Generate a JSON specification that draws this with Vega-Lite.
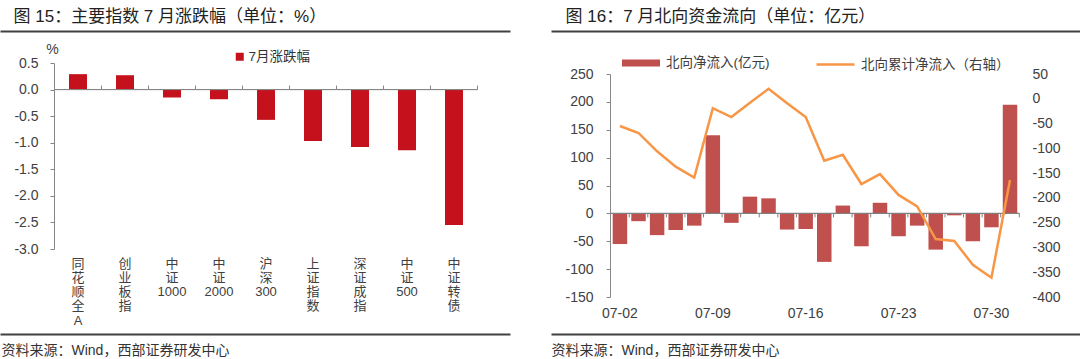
{
  "$schema": "https://vega.github.io/schema/vega-lite/v6.json",
  "padding": {"left": 0, "top": 7, "right": 0, "bottom": 0},
  "spacing": 41,
  "resolve": {"legend": {"color": "independent", "fill": "independent", "stroke": "independent"}},
  "config": {
    "view": {"stroke": null},
    "locale": {"number": {"decimal": ".", "thousands": ",", "grouping": [3], "currency": ["$", ""], "minus": "-"}},
    "axis": {"grid": false, "labelFont": "Liberation Sans, Noto Sans CJK SC", "titleFont": "Liberation Sans, Noto Sans CJK SC"},
    "legend": {"labelFont": "Liberation Sans, Noto Sans CJK SC"}
  },
  "datasets": {
    "indices": [
      {"name": "同花顺全A", "value": 0.29},
      {"name": "创业板指", "value": 0.27},
      {"name": "中证1000", "value": -0.15},
      {"name": "中证2000", "value": -0.18},
      {"name": "沪深300", "value": -0.57},
      {"name": "上证指数", "value": -0.97},
      {"name": "深证成指", "value": -1.08},
      {"name": "中证500", "value": -1.14},
      {"name": "中证转债", "value": -2.55}
    ],
    "north": [
      {"date": "07-02", "inflow": -55, "cum": -55},
      {"date": "07-03", "inflow": -14, "cum": -69},
      {"date": "07-04", "inflow": -39, "cum": -106},
      {"date": "07-05", "inflow": -30, "cum": -137},
      {"date": "07-08", "inflow": -22, "cum": -159},
      {"date": "07-09", "inflow": 140, "cum": -19},
      {"date": "07-10", "inflow": -17, "cum": -37},
      {"date": "07-11", "inflow": 30, "cum": -8},
      {"date": "07-12", "inflow": 27, "cum": 20},
      {"date": "07-15", "inflow": -29, "cum": -9},
      {"date": "07-16", "inflow": -28, "cum": -37},
      {"date": "07-17", "inflow": -87, "cum": -125},
      {"date": "07-18", "inflow": 14, "cum": -113},
      {"date": "07-19", "inflow": -59, "cum": -172},
      {"date": "07-22", "inflow": 19, "cum": -152},
      {"date": "07-23", "inflow": -41, "cum": -194},
      {"date": "07-24", "inflow": -22, "cum": -217},
      {"date": "07-25", "inflow": -65, "cum": -283},
      {"date": "07-26", "inflow": -3.5, "cum": -287},
      {"date": "07-29", "inflow": -50, "cum": -335},
      {"date": "07-30", "inflow": -25, "cum": -361},
      {"date": "07-31", "inflow": 195, "cum": -164}
    ]
  },
  "hconcat": [
    {
      "width": 510,
      "height": 186,
      "data": {"name": "indices"},
      "layer": [
        {
          "mark": {"type": "bar"},
          "encoding": {
            "x": {
              "field": "name", "type": "nominal", "sort": null,
              "scale": {
                "domain": [" ", "同花顺全A", "创业板指", "中证1000", "中证2000", "沪深300", "上证指数", "深证成指", "中证500", "中证转债", "  "],
                "paddingInner": 0.617, "paddingOuter": 0.234, "align": 1, "round": false
              },
              "axis": {
                "orient": "bottom", "offset": 85, "ticks": false, "domain": true,
                "domainColor": "#404040", "domainWidth": 2,
                "labelAngle": 0, "labelPadding": -77, "labelBaseline": "top", "labelAlign": "center",
                "labelFontSize": 13, "labelLineHeight": 14.3, "labelColor": "#404040", "labelOverlap": false,
                "labelExpr": "split(replace(datum.value, regexp('([^0-9])(?!$)', 'g'), '$1|'), '|')",
                "title": "资料来源：Wind，西部证券研发中心",
                "titleX": 1, "titleY": 16, "titleAlign": "left", "titleBaseline": "middle",
                "titleFontSize": 14, "titleFontWeight": "normal", "titleColor": "#333333"
              }
            },
            "y": {
              "field": "value", "type": "quantitative",
              "scale": {"domain": [-3, 0.5], "nice": false, "zero": false},
              "axis": {
                "orient": "left", "offset": -54, "values": [0.5, 0, -0.5, -1, -1.5, -2, -2.5, -3], "format": ".1f",
                "tickSize": 4, "labelPadding": 12, "labelFontSize": 14, "labelColor": "#404040",
                "domainColor": "#868686", "tickColor": "#868686",
                "title": "%", "titleAngle": 0, "titleX": -2, "titleY": -14, "titleAlign": "center", "titleBaseline": "middle",
                "titleFontSize": 14, "titleFontWeight": "normal", "titleColor": "#404040"
              }
            },
            "color": {
              "datum": "7月涨跌幅",
              "scale": {"range": ["#C4111C"]},
              "legend": {
                "orient": "none", "legendX": 233, "legendY": -13, "title": null, "padding": 0,
                "symbolType": "square", "symbolSize": 64, "symbolStrokeWidth": 0,
                "labelFontSize": 13.5, "labelColor": "#333333", "labelOffset": 2
              }
            }
          }
        },
        {
          "mark": {"type": "bar", "width": {"band": 2.611}, "fill": null, "stroke": "#868686", "strokeWidth": 1},
          "encoding": {
            "x": {
              "field": "name", "type": "nominal", "sort": null,
              "axis": {
                "orient": "top", "offset": 32, "ticks": false, "labels": false, "domain": true,
                "domainColor": "#404040", "domainWidth": 2,
                "title": "图 15：主要指数 7 月涨跌幅（单位：%）",
                "titleX": 13, "titleY": -15, "titleAlign": "left", "titleBaseline": "middle",
                "titleFontSize": 17, "titleFontWeight": "normal", "titleColor": "#222222"
              }
            },
            "y": {"datum": 0, "axis": null},
            "y2": {"datum": 0}
          }
        },
        {
          "mark": {"type": "rule", "color": "#868686", "strokeWidth": 1},
          "encoding": {
            "x": {"field": "name", "type": "nominal", "sort": null, "bandPosition": 1.806, "axis": null},
            "y": {"datum": 0, "axis": null},
            "y2": {"datum": 0.075}
          }
        }
      ],
      "resolve": {"axis": {"x": "independent", "y": "independent"}}
    },
    {
      "width": 529,
      "height": 234,
      "data": {"name": "north"},
      "layer": [
        {
          "layer": [
            {
              "mark": {"type": "bar"},
              "encoding": {
                "x": {
                  "field": "date", "type": "nominal", "sort": null,
                  "scale": {
                    "domain": [" ", "  ", "   ", "07-02", "07-03", "07-04", "07-05", "07-08", "07-09", "07-10", "07-11", "07-12", "07-15", "07-16", "07-17", "07-18", "07-19", "07-22", "07-23", "07-24", "07-25", "07-26", "07-29", "07-30", "07-31", "    ", "     ", "      "],
                    "paddingInner": 0.22, "paddingOuter": 0.35, "align": 0.46, "round": false
                  },
                  "axis": {
                    "orient": "bottom", "offset": 37, "ticks": false, "domain": true,
                    "domainColor": "#404040", "domainWidth": 2,
                    "labelAngle": 0, "labelPadding": -28, "labelBaseline": "top",
                    "labelFontSize": 14, "labelColor": "#404040", "labelOverlap": false,
                    "labelExpr": "indexof(['07-02','07-09','07-16','07-23','07-30'], datum.value) >= 0 ? datum.value : ''",
                    "title": "资料来源：Wind，西部证券研发中心",
                    "titleX": 0, "titleY": 16, "titleAlign": "left", "titleBaseline": "middle",
                    "titleFontSize": 14, "titleFontWeight": "normal", "titleColor": "#333333"
                  }
                },
                "y": {
                  "field": "inflow", "type": "quantitative",
                  "scale": {"domain": [-150, 250], "range": [234, 11], "nice": false, "zero": false},
                  "axis": {
                    "orient": "left", "offset": -59, "values": [250, 200, 150, 100, 50, 0, -50, -100, -150],
                    "tickSize": 4, "labelPadding": 13, "labelFontSize": 14, "labelColor": "#404040",
                    "domainColor": "#868686", "tickColor": "#868686", "title": null
                  }
                },
                "fill": {
                  "datum": "北向净流入(亿元)",
                  "scale": {"range": ["#C0504D"]},
                  "legend": {
                    "orient": "none", "legendX": 71, "legendY": -19, "title": null, "padding": 0,
                    "symbolType": "M-1,-0.18L1,-0.18L1,0.18L-1,0.18Z", "symbolSize": 1444, "symbolStrokeWidth": 0,
                    "labelFontSize": 13.5, "labelColor": "#404040", "labelOffset": 6
                  }
                }
              }
            },
            {
              "mark": {"type": "bar", "width": {"band": 1.282}, "fill": null, "stroke": "#7F7F7F", "strokeWidth": 1},
              "encoding": {
                "x": {
                  "field": "date", "type": "nominal", "sort": null,
                  "axis": {
                    "orient": "top", "offset": 32, "ticks": false, "labels": false, "domain": true,
                    "domainColor": "#404040", "domainWidth": 2,
                    "title": "图 16：7 月北向资金流向（单位：亿元）",
                    "titleX": 14, "titleY": -15, "titleAlign": "left", "titleBaseline": "middle",
                    "titleFontSize": 17, "titleFontWeight": "normal", "titleColor": "#222222"
                  }
                },
                "y": {"datum": 0, "axis": null},
                "y2": {"datum": 0}
              }
            },
            {
              "mark": {"type": "rule", "color": "#7F7F7F", "strokeWidth": 1},
              "encoding": {
                "x": {"field": "date", "type": "nominal", "sort": null, "bandPosition": 1.141, "axis": null},
                "y": {"datum": 0, "axis": null},
                "y2": {"datum": -7.2}
              }
            }
          ],
          "resolve": {"axis": {"x": "independent", "y": "independent"}}
        },
        {
          "mark": {"type": "line", "strokeWidth": 2.5},
          "encoding": {
            "x": {"field": "date", "type": "nominal", "sort": null, "axis": null},
            "y": {
              "field": "cum", "type": "quantitative",
              "scale": {"domain": [-400, 50], "range": [234, 11], "nice": false, "zero": false},
              "axis": {
                "orient": "right", "offset": -62, "domain": false, "ticks": false, "labelPadding": 14,
                "values": [50, 0, -50, -100, -150, -200, -250, -300, -350, -400],
                "labelFontSize": 14, "labelColor": "#404040", "title": null
              }
            },
            "stroke": {
              "datum": "北向累计净流入（右轴）",
              "scale": {"range": ["#F79646"]},
              "legend": {
                "orient": "none", "legendX": 264, "legendY": -19, "title": null, "padding": 0,
                "symbolType": "stroke", "symbolSize": 1444, "symbolStrokeWidth": 2.5,
                "labelFontSize": 13.5, "labelColor": "#404040", "labelOffset": 5
              }
            }
          }
        }
      ],
      "resolve": {"scale": {"y": "independent"}, "axis": {"x": "independent", "y": "independent"}}
    }
  ]
}
